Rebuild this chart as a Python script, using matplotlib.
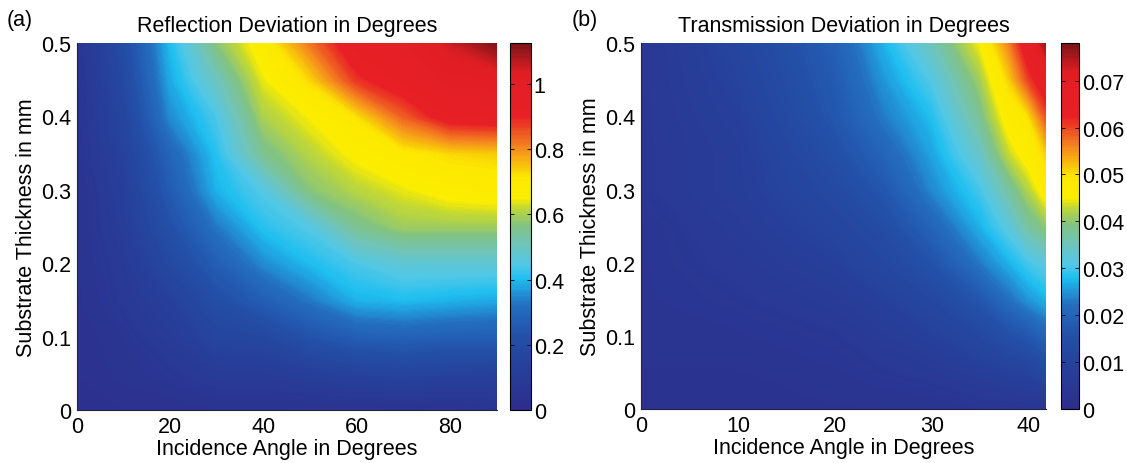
import numpy as np
import matplotlib
matplotlib.use("Agg")
import matplotlib.pyplot as plt
from matplotlib.colors import LinearSegmentedColormap
from matplotlib.ticker import FuncFormatter

plt.rcParams['font.family'] = ['Liberation Sans', 'DejaVu Sans']
plt.rcParams['font.size'] = 15.5

# --- (a) reflection deviation ---
refl_angle = [0, 10, 20, 30, 40, 50, 60, 70, 80, 90]
refl_thick = [0.0, 0.05, 0.10, 0.15, 0.20, 0.25, 0.30, 0.35, 0.40, 0.45, 0.50]
refl_dev = [
    [0.03, 0.03, 0.03, 0.04, 0.04, 0.04, 0.04, 0.04, 0.04, 0.05],
    [0.03, 0.05, 0.07, 0.10, 0.10, 0.12, 0.14, 0.15, 0.14, 0.13],
    [0.03, 0.06, 0.10, 0.16, 0.17, 0.23, 0.27, 0.28, 0.27, 0.27],
    [0.04, 0.08, 0.13, 0.21, 0.27, 0.33, 0.39, 0.40, 0.39, 0.38],
    [0.04, 0.09, 0.18, 0.27, 0.35, 0.40, 0.44, 0.47, 0.47, 0.47],
    [0.04, 0.11, 0.22, 0.33, 0.41, 0.45, 0.55, 0.59, 0.59, 0.59],
    [0.04, 0.12, 0.26, 0.39, 0.45, 0.57, 0.61, 0.64, 0.67, 0.68],
    [0.05, 0.14, 0.29, 0.41, 0.55, 0.61, 0.66, 0.70, 0.73, 0.74],
    [0.05, 0.16, 0.35, 0.44, 0.60, 0.65, 0.72, 0.84, 0.93, 0.94],
    [0.05, 0.18, 0.38, 0.50, 0.64, 0.73, 0.88, 0.94, 1.00, 1.00],
    [0.05, 0.20, 0.40, 0.57, 0.68, 0.82, 0.95, 0.98, 1.05, 1.12],
]
refl_vmax = 1.125
refl_cticks = [0, 0.2, 0.4, 0.6, 0.8, 1.0]

# --- (b) transmission deviation ---
trans_angle = [0, 10, 20, 25, 30, 35, 38, 40, 41.8]
trans_thick = [0.0, 0.05, 0.10, 0.15, 0.20, 0.25, 0.30, 0.35, 0.40, 0.45, 0.50]
trans_dev = [
    [0.003, 0.003, 0.003, 0.003, 0.003, 0.004, 0.004, 0.004, 0.004],
    [0.003, 0.003, 0.004, 0.005, 0.006, 0.008, 0.009, 0.010, 0.012],
    [0.004, 0.004, 0.005, 0.007, 0.009, 0.012, 0.015, 0.017, 0.020],
    [0.004, 0.005, 0.007, 0.009, 0.012, 0.017, 0.022, 0.025, 0.027],
    [0.004, 0.006, 0.009, 0.012, 0.016, 0.023, 0.027, 0.030, 0.032],
    [0.004, 0.007, 0.011, 0.014, 0.020, 0.027, 0.032, 0.037, 0.040],
    [0.005, 0.008, 0.013, 0.017, 0.024, 0.030, 0.037, 0.042, 0.047],
    [0.005, 0.008, 0.015, 0.020, 0.026, 0.034, 0.043, 0.047, 0.051],
    [0.005, 0.009, 0.017, 0.023, 0.028, 0.038, 0.047, 0.050, 0.059],
    [0.005, 0.010, 0.018, 0.025, 0.031, 0.041, 0.051, 0.060, 0.066],
    [0.005, 0.011, 0.019, 0.027, 0.035, 0.045, 0.056, 0.066, 0.076],
]
trans_vmax = 0.078
trans_cticks = [0, 0.01, 0.02, 0.03, 0.04, 0.05, 0.06, 0.07]

# jet as it looks in the printed figure (stops)
jet_stops = [0.0, 0.12, 0.20, 0.285, 0.358, 0.394, 0.449, 0.504, 0.555,
             0.578, 0.635, 0.675, 0.713, 0.80, 0.92, 1.0]
jet_rgb = [(45, 45, 140), (38, 65, 155), (35, 80, 168), (35, 110, 192),
           (30, 190, 240), (80, 200, 232), (110, 196, 190), (130, 195, 130),
           (200, 218, 45), (252, 238, 0), (252, 232, 0), (248, 185, 15),
           (245, 140, 30), (232, 32, 38), (225, 30, 36), (125, 20, 22)]
jet_print = LinearSegmentedColormap.from_list(
    "jet_print", [(s, tuple(c / 255 for c in rgb)) for s, rgb in zip(jet_stops, jet_rgb)])

fmt = FuncFormatter(lambda v, p: f"{v:g}")


def panel(fig, rect, crect, xs, ys, zs, vmax, cticks, xticks, xmax, title, tag):
    ax = fig.add_axes(rect)
    cax = fig.add_axes(crect)
    cs = ax.contourf(xs, ys, np.array(zs), levels=np.linspace(0, vmax, 300),
                     cmap=jet_print, vmin=0, vmax=vmax)
    cs.set_edgecolor("face")
    ax.set_xlim(0, xmax)
    ax.set_ylim(0, 0.5)
    ax.set_xticks(xticks)
    ax.set_yticks([0, 0.1, 0.2, 0.3, 0.4, 0.5])
    ax.xaxis.set_major_formatter(fmt)
    ax.yaxis.set_major_formatter(fmt)
    ax.tick_params(direction="in", length=0, pad=4)
    for s in ("top", "right"):
        ax.spines[s].set_visible(False)
    for s in ("left", "bottom"):
        ax.spines[s].set_color("#222244")
    ax.set_xlabel("Incidence Angle in Degrees", labelpad=1)
    ax.set_ylabel("Substrate Thickness in mm", labelpad=3)
    ax.set_title(title, fontsize=15.5, pad=9)
    fig.text(rect[0] - 0.062, 0.955, tag, fontsize=15.5, va="center")

    cb = fig.colorbar(cs, cax=cax, ticks=cticks)
    cb.ax.yaxis.set_major_formatter(fmt)
    cb.ax.tick_params(direction="in", length=3, width=0.6, left=True, right=True, pad=2)
    cb.outline.set_linewidth(0.8)
    return ax


fig = plt.figure(figsize=(11.27, 4.64), dpi=100)
panel(fig, [0.0683, 0.114, 0.3727, 0.791], [0.4525, 0.114, 0.0186, 0.791],
      refl_angle, refl_thick, refl_dev, refl_vmax, refl_cticks,
      [0, 20, 40, 60, 80], 90, "Reflection Deviation in Degrees", "(a)")
panel(fig, [0.5688, 0.116, 0.3594, 0.789], [0.9412, 0.116, 0.0165, 0.789],
      trans_angle, trans_thick, trans_dev, trans_vmax, trans_cticks,
      [0, 10, 20, 30, 40], 41.8, "Transmission Deviation in Degrees", "(b)")

fig.savefig("out.png", dpi=100)
